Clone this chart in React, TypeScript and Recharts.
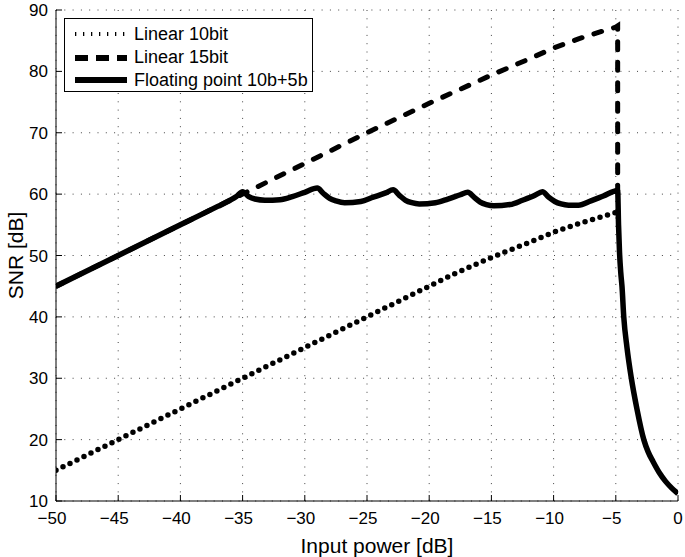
import { LineChart, Line, XAxis, YAxis, CartesianGrid, Legend } from "recharts";

const FONT = '"Liberation Sans", Arial, Helvetica, sans-serif';

const xTicks = [-50, -45, -40, -35, -30, -25, -20, -15, -10, -5, 0];
const yTicks = [10, 20, 30, 40, 50, 60, 70, 80, 90];

const seriesNames = ["Linear 10bit", "Linear 15bit", "Floating point 10b+5b"];

// Linear 10bit (dotted)
const lin10Power = [-50, -45, -40, -35, -30, -25, -20, -18, -16, -14, -12, -10, -8, -6, -5, -4.85];
const lin10Snr = [15, 20, 25, 30, 35, 40, 45, 47, 48.8, 50.5, 52.1, 53.8, 55.2, 56.4, 57.0, 57.1];

// Linear 15bit (dashed)
const lin15Power = [-50, -45, -40, -35, -30, -25, -20, -15, -12, -10, -8, -6, -5, -4.85, -4.85];
const lin15Snr = [45, 50, 55, 60, 65, 70, 74.8, 79.4, 82, 83.8, 85.3, 86.6, 87.2, 87.4, 60.6];

// Floating point 10b+5b (solid)
const floatPower = [
  -50, -45, -40, -37, -36, -35.5, -35, -34.5, -34, -33.2, -32, -31, -30, -29,
  -28.5, -28, -27.5, -26.8, -25.5, -24.5, -23.5, -22.9,
  -22.4, -21.9, -21.4, -20.8, -19.5, -18.5, -17.5, -16.9,
  -16.4, -15.9, -15.4, -14.8, -13.5, -12.5, -11.5, -10.9,
  -10.4, -9.9, -9.4, -8.8, -8, -7, -6, -4.85,
  -4.78, -4.7, -4.6, -4.5, -4.36, -4.1, -3.75, -3.3, -2.75, -2.4, -2, -1.5, -1, -0.5, 0,
];
const floatSnr = [
  45, 50, 55, 58, 59, 59.6, 60.4, 59.6, 59.2, 59.0, 59.1, 59.6, 60.3, 61.0,
  60.1, 59.3, 58.9, 58.6, 58.8, 59.5, 60.2, 60.7,
  59.8, 59.0, 58.6, 58.4, 58.6, 59.2, 59.9, 60.3,
  59.5, 58.7, 58.3, 58.1, 58.3, 59.0, 59.8, 60.4,
  59.5, 58.8, 58.4, 58.2, 58.2, 58.9, 59.7, 60.6,
  55, 50.5, 47.2, 44.9, 40, 35, 30, 25, 20, 18, 16.4, 14.6, 13.2, 12.1, 11.2,
];

const toRows = (px: number[], py: number[]) => px.map((p, i) => ({ p, snr: py[i] }));
const lin10Data = toRows(lin10Power, lin10Snr);
const lin15Data = toRows(lin15Power, lin15Snr);
const floatData = toRows(floatPower, floatSnr);

const fmt = (v: number) => (v < 0 ? "\u2212" + Math.abs(v) : String(v));

function XTick(props: any) {
  const { x, y, payload } = props;
  const v = payload.value;
  return (
    <text x={x + (v < 0 ? -4 : 0)} y={y} dy="0.71em" textAnchor="middle" fontSize={17} fontFamily={FONT} fill="#000">
      {fmt(v)}
    </text>
  );
}

function LegendBox() {
  return (
    <div style={{ border: "1px solid #000", background: "#fff", width: 247, height: 72 }}>
      <svg width={247} height={72} style={{ display: "block" }}>
        <line x1={10} x2={62} y1={15} y2={15} stroke="#000" strokeWidth={4} strokeDasharray="1.3 6.7" />
        <line x1={10} x2={62} y1={39} y2={39} stroke="#000" strokeWidth={6} strokeDasharray="13 8" />
        <line x1={10} x2={62} y1={61} y2={61} stroke="#000" strokeWidth={6} />
        {seriesNames.map((name, i) => (
          <text key={name} x={69} y={21 + i * 23} fontSize={18} fontFamily={FONT} fill="#000">
            {name}
          </text>
        ))}
      </svg>
    </div>
  );
}

export default function App() {
  return (
    <div style={{ position: "absolute", left: 0, top: 0, background: "#fff" }}>
      <LineChart width={685} height={557} margin={{ top: 10, right: 7, bottom: 0, left: 0 }}>
        <CartesianGrid stroke="#444" strokeDasharray="1 7.3" />
        <XAxis
          type="number"
          dataKey="p"
          domain={[-50, 0]}
          ticks={xTicks}
          interval={0}
          allowDataOverflow
          height={56}
          tickSize={-6}
          tickMargin={17}
          stroke="#000"
          tick={<XTick />}
          label={{
            value: "Input power [dB]",
            position: "insideBottom",
            offset: 4,
            dx: 10,
            style: { fontSize: 21, fontFamily: FONT, fill: "#000" },
          }}
        />
        <XAxis
          xAxisId="top"
          orientation="top"
          type="number"
          domain={[-50, 0]}
          ticks={xTicks}
          interval={0}
          height={0}
          tickSize={-6}
          tick={false}
          stroke="#000"
        />
        <YAxis
          type="number"
          domain={[10, 90]}
          ticks={yTicks}
          interval={0}
          allowDataOverflow
          width={56}
          tickSize={-6}
          tickMargin={14}
          stroke="#000"
          tick={{ fontSize: 17, fontFamily: FONT, fill: "#000" }}
          label={{
            value: "SNR [dB]",
            angle: -90,
            position: "insideLeft",
            offset: 16,
            style: { fontSize: 21, fontFamily: FONT, fill: "#000", textAnchor: "middle" },
          }}
        />
        <YAxis
          yAxisId="right"
          orientation="right"
          type="number"
          domain={[10, 90]}
          ticks={yTicks}
          interval={0}
          width={0}
          tickSize={-6}
          tick={false}
          stroke="#000"
        />
        <Legend
          layout="vertical"
          verticalAlign="middle"
          align="center"
          wrapperStyle={{ left: 64, top: 18, width: 249, height: 74 }}
          content={() => <LegendBox />}
        />
        <Line
          data={lin10Data}
          dataKey="snr"
          name={seriesNames[0]}
          type="linear"
          stroke="#000"
          strokeWidth={5.5}
          strokeDasharray="0 7.8"
          strokeLinecap="round"
          dot={false}
          isAnimationActive={false}
        />
        <Line
          data={lin15Data}
          dataKey="snr"
          name={seriesNames[1]}
          type="linear"
          stroke="#000"
          strokeWidth={5}
          strokeDasharray="8 12.5"
          strokeLinecap="round"
          dot={false}
          isAnimationActive={false}
        />
        <Line
          data={floatData}
          dataKey="snr"
          name={seriesNames[2]}
          type="monotone"
          stroke="#000"
          strokeWidth={5.5}
          strokeLinejoin="round"
          dot={false}
          isAnimationActive={false}
        />
      </LineChart>
    </div>
  );
}
